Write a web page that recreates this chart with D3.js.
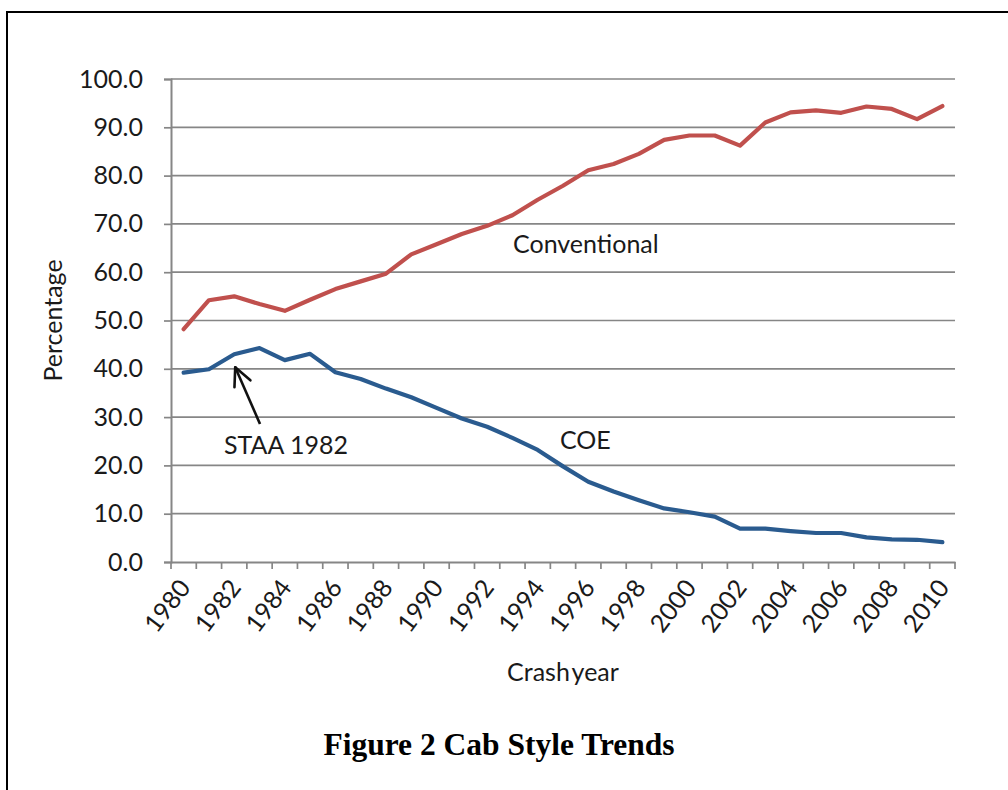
<!DOCTYPE html>
<html>
<head>
<meta charset="utf-8">
<script src="https://cdn.jsdelivr.net/npm/d3@7/dist/d3.min.js"></script>
<style>
  html, body { margin: 0; padding: 0; background: #fff; }
  svg { display: block; }
  text { font-family: Lato, "Open Sans", sans-serif; }
</style>
</head>
<body>
<svg id="chart" width="1008" height="790"></svg>
<script>
// Crash years (categories)
const years = [1980, 1981, 1982, 1983, 1984, 1985, 1986, 1987, 1988, 1989,
               1990, 1991, 1992, 1993, 1994, 1995, 1996, 1997, 1998, 1999,
               2000, 2001, 2002, 2003, 2004, 2005, 2006, 2007, 2008, 2009, 2010];

// Share of trucks by cab style, percent
const conventional = [48.2, 54.2, 55.0, 53.4, 52.0, 54.3, 56.5, 58.1, 59.7, 63.7,
                      65.8, 67.9, 69.6, 71.8, 75.0, 77.9, 81.1, 82.4, 84.5, 87.4,
                      88.3, 88.3, 86.2, 91.0, 93.1, 93.5, 93.0, 94.3, 93.8, 91.7, 94.4];
const coe = [39.2, 39.9, 43.0, 44.3, 41.8, 43.1, 39.3, 37.9, 35.9, 34.1,
             31.9, 29.7, 28.0, 25.7, 23.2, 19.8, 16.6, 14.6, 12.8, 11.1,
             10.3, 9.4, 6.9, 6.9, 6.4, 6.0, 6.0, 5.1, 4.7, 4.6, 4.1];

const yTicks = [0, 10, 20, 30, 40, 50, 60, 70, 80, 90, 100];
const xTickLabels = [1980, 1982, 1984, 1986, 1988, 1990, 1992, 1994,
                     1996, 1998, 2000, 2002, 2004, 2006, 2008, 2010];

const svg = d3.select("#chart");
const plot = { left: 171, right: 955, top: 79, bottom: 562 };
const fs = "25px";

// Page frame
svg.append("path")
  .attr("d", "M7,790 L7,12 L1008,12")
  .attr("fill", "none").attr("stroke", "#000").attr("stroke-width", 2);

const x = d3.scaleBand().domain(years).range([plot.left, plot.right]).padding(0);
const cx = d => x(d) + x.bandwidth() / 2;
const y = d3.scaleLinear().domain([0, 100]).range([plot.bottom, plot.top]);

// Horizontal gridlines
svg.append("g").selectAll("line").data(yTicks.filter(v => v > 0)).join("line")
  .attr("x1", plot.left).attr("x2", plot.right)
  .attr("y1", d => y(d)).attr("y2", d => y(d))
  .attr("stroke", "#868686").attr("stroke-width", 1.7);

// Y axis
const yAxis = svg.append("g").attr("transform", `translate(${plot.left},0)`)
  .call(d3.axisLeft(y).tickValues(yTicks).tickFormat(d3.format(".1f")).tickSize(7).tickPadding(21));
yAxis.select(".domain").attr("stroke", "#868686").attr("stroke-width", 2);
yAxis.selectAll(".tick line").attr("stroke", "#868686").attr("stroke-width", 1.7);
yAxis.selectAll(".tick text").attr("fill", "#1a1a1a").style("font-size", fs).style("font-family", "Lato, sans-serif");

// X axis; labels every other year, rotated
const xAxis = svg.append("g").attr("transform", `translate(0,${plot.bottom})`)
  .call(d3.axisBottom(x).tickValues(xTickLabels).tickSize(0).tickPadding(0));
xAxis.select(".domain").attr("stroke", "#868686").attr("stroke-width", 2);
xAxis.selectAll(".tick text")
  .attr("text-anchor", "end")
  .attr("fill", "#1a1a1a")
  .style("font-size", fs).style("font-family", "Lato, sans-serif")
  .attr("dy", null)
  .attr("transform", "translate(3,22) rotate(-53)")
  .attr("y", 0).attr("x", 0).attr("dominant-baseline", "middle");

// Tick marks on category boundaries
const boundaries = years.map(d => x(d)).concat([plot.right]);
svg.append("g").selectAll("line").data(boundaries).join("line")
  .attr("x1", d => d).attr("x2", d => d)
  .attr("y1", plot.bottom).attr("y2", plot.bottom + 7)
  .attr("stroke", "#868686").attr("stroke-width", 1.7);

// Series lines
const line = d3.line().x((d, i) => cx(years[i])).y(d => y(d));
svg.append("path").datum(conventional)
  .attr("d", line).attr("fill", "none")
  .attr("stroke", "#C0504D").attr("stroke-width", 4.2)
  .attr("stroke-linejoin", "round").attr("stroke-linecap", "round");
svg.append("path").datum(coe)
  .attr("d", line).attr("fill", "none")
  .attr("stroke", "#2A5B8F").attr("stroke-width", 4.2)
  .attr("stroke-linejoin", "round").attr("stroke-linecap", "round");

// Series labels
const label = (tx, ty, s) => svg.append("text")
  .attr("x", tx).attr("y", ty).attr("fill", "#1a1a1a")
  .style("font-size", fs).text(s);
label(513, 253, "Conventional");
label(560, 449, "COE");
label(224, 454, "STAA 1982");

// Annotation arrow pointing to the 1982 law change
const tip = [cx(1982) + 1, y(coe[2]) + 13];
const tail = [260, 424];
svg.append("line")
  .attr("x1", tail[0]).attr("y1", tail[1]).attr("x2", tip[0]).attr("y2", tip[1])
  .attr("stroke", "#111").attr("stroke-width", 2.6);
const ang = Math.atan2(tail[1] - tip[1], tail[0] - tip[0]);
[-0.45, 0.45].forEach(a => {
  svg.append("line")
    .attr("x1", tip[0]).attr("y1", tip[1])
    .attr("x2", tip[0] + 20 * Math.cos(ang + a)).attr("y2", tip[1] + 20 * Math.sin(ang + a))
    .attr("stroke", "#111").attr("stroke-width", 2.6).attr("stroke-linecap", "round");
});

// Axis titles
svg.append("text")
  .attr("transform", `translate(62,${(plot.top + plot.bottom) / 2}) rotate(-90)`)
  .attr("text-anchor", "middle").attr("fill", "#1a1a1a")
  .style("font-size", fs).text("Percentage");
svg.append("text")
  .attr("x", 563).attr("y", 681).attr("text-anchor", "middle").attr("fill", "#1a1a1a")
  .style("font-size", fs).style("word-spacing", "-4px").text("Crash year");

// Figure caption
svg.append("text")
  .attr("x", 499).attr("y", 755).attr("text-anchor", "middle").attr("fill", "#000")
  .style("font-family", "'Liberation Serif', 'Times New Roman', serif")
  .style("font-weight", "bold").style("font-size", "31.5px")
  .text("Figure 2 Cab Style Trends");
</script>
</body>
</html>
